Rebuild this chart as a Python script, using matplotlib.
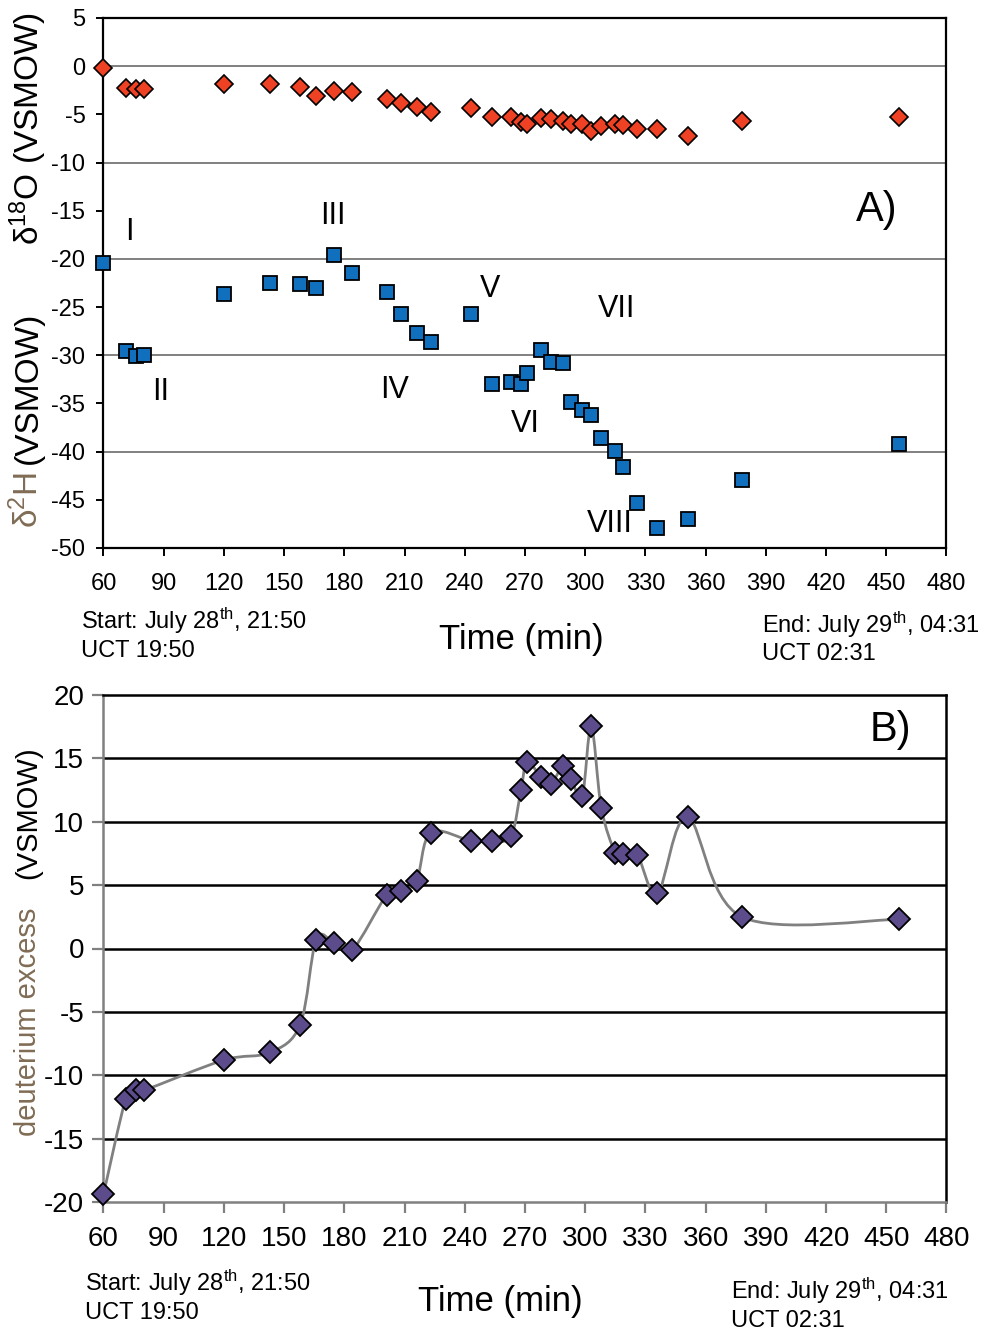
import matplotlib
matplotlib.use('Agg')
import matplotlib.pyplot as plt
from matplotlib.path import Path
from matplotlib.patches import PathPatch

plt.rcParams['font.family'] = ['Liberation Sans', 'DejaVu Sans']
plt.rcParams['mathtext.fontset'] = 'custom'
plt.rcParams['mathtext.rm'] = 'Liberation Sans'
plt.rcParams['mathtext.it'] = 'Liberation Sans'
plt.rcParams['axes.unicode_minus'] = False

# ---------------- data
time_min = [60, 71, 76, 80, 120, 143, 158, 166, 175, 184, 201, 208, 216, 223, 243, 253.5,
            263, 268, 271, 278, 283, 289, 293, 298.5, 303, 308, 315, 319, 326, 336, 351, 378, 456.5]
d18O = [-0.2, -2.3, -2.4, -2.4, -1.9, -1.85, -2.2, -3.05, -2.55, -2.7, -3.45, -3.85, -4.2, -4.8,
        -4.35, -5.3, -5.25, -5.75, -5.95, -5.4, -5.5, -5.65, -6.0, -6.0, -6.7, -6.2, -5.95, -6.15,
        -6.55, -6.55, -7.25, -5.7, -5.25]
d2H = [-20.4, -29.6, -30.1, -30.0, -23.6, -22.5, -22.6, -23.05, -19.6, -21.5, -23.4, -25.7, -27.7,
       -28.65, -25.7, -33.0, -32.8, -33.0, -31.8, -29.45, -30.7, -30.8, -34.8, -35.7, -36.2, -38.55,
       -39.9, -41.6, -45.3, -47.9, -47.0, -42.9, -39.2]
d_excess = [-19.4, -11.9, -11.2, -11.2, -8.8, -8.2, -6.0, 0.7, 0.4, -0.1, 4.2, 4.55, 5.35, 9.15,
            8.5, 8.5, 8.85, 12.5, 14.75, 13.5, 13.0, 14.4, 13.4, 12.0, 17.55, 11.1, 7.55, 7.45,
            7.35, 4.35, 10.35, 2.5, 2.3]

phase_labels = ['I', 'II', 'III', 'IV', 'V', 'VI', 'VII', 'VIII']
phase_t = [73, 88.5, 174.5, 205, 252.5, 270, 315.5, 312]
phase_y = [-17.2, -33.8, -15.5, -33.6, -23.1, -37.1, -25.2, -47.5]

x_ticks = list(range(60, 481, 30))

RED = '#EF4123'
BLUE = '#1170BE'
PURPLE = '#5C4C8C'
BROWN = '#806C55'
GRID_GRAY = '#808080'


def smooth_path(xs, ys):
    # Excel-like smoothed line: Catmull-Rom segments as cubic Bezier curves
    pts = list(zip(xs, ys))
    verts = [pts[0]]
    codes = [Path.MOVETO]
    n = len(pts)
    for i in range(n - 1):
        p0 = pts[i - 1] if i > 0 else pts[i]
        p1 = pts[i]
        p2 = pts[i + 1]
        p3 = pts[i + 2] if i + 2 < n else pts[i + 1]
        c1 = (p1[0] + (p2[0] - p0[0]) / 6, p1[1] + (p2[1] - p0[1]) / 6)
        c2 = (p2[0] - (p3[0] - p1[0]) / 6, p2[1] - (p3[1] - p1[1]) / 6)
        verts += [c1, c2, p2]
        codes += [Path.CURVE4] * 3
    return Path(verts, codes)


W, H = 995, 1341
fig = plt.figure(figsize=(W / 100, H / 100), dpi=100)


def px_ax(left, top, right, bottom):
    return fig.add_axes([left / W, 1 - bottom / H, (right - left) / W, (bottom - top) / H])


################# A) isotopes
ax1 = px_ax(103.5, 18, 946.5, 548)
ax1.plot(time_min, d18O, linestyle='none', marker='D', ms=9, mfc=RED, mec='black', mew=1.2,
         zorder=4, clip_on=False)
ax1.plot(time_min, d2H, linestyle='none', marker='s', ms=9.5, mfc=BLUE, mec='black', mew=1.3,
         zorder=4, clip_on=False)
ax1.set_xlim(60, 480)
ax1.set_ylim(-50, 5)
ax1.set_xticks(x_ticks)
ax1.set_yticks(range(-50, 6, 5))
for g in range(-40, 1, 10):
    ax1.axhline(g, color=GRID_GRAY, lw=1.4, zorder=1)
for s in ax1.spines.values():
    s.set_linewidth(1.6)
    s.set_color('black')
ax1.tick_params(axis='x', direction='out', length=6, width=1.4, pad=12, labelsize=17)
ax1.tick_params(axis='y', direction='out', length=5, width=1.4, pad=8, labelsize=17)

for lab, t, y in zip(phase_labels, phase_t, phase_y):
    ax1.text(t, y, lab, fontsize=22, ha='center', va='center')
ax1.text(445, -14.9, 'A)', fontsize=30, ha='center', va='center')

fig.text(28 / W, 1 - 128 / H, 'δ$^{18}$O (VSMOW)', rotation=90, fontsize=24, ha='center', va='center')
fig.text(28 / W, 1 - 500 / H, 'δ$^{2}$H', rotation=90, fontsize=24, ha='center', va='center', color=BROWN)
fig.text(28 / W, 1 - 388 / H, '(VSMOW)', rotation=90, fontsize=24, ha='center', va='center')

fig.text(81 / W, 1 - 629 / H, 'Start: July 28$^{\\mathrm{th}}$, 21:50', fontsize=17, va='baseline')
fig.text(81 / W, 1 - 657 / H, 'UCT 19:50', fontsize=17, va='baseline')
fig.text(521 / W, 1 - 640 / H, 'Time (min)', fontsize=25, ha='center', va='center')
fig.text(762 / W, 1 - 633 / H, 'End: July 29$^{\\mathrm{th}}$, 04:31', fontsize=17, va='baseline')
fig.text(762 / W, 1 - 660 / H, 'UCT 02:31', fontsize=17, va='baseline')

################# B) deuterium excess
ax2 = px_ax(103.5, 695, 946.5, 1202)
ax2.add_patch(PathPatch(smooth_path(time_min, d_excess), facecolor='none',
                        edgecolor=GRID_GRAY, lw=2.0, zorder=3))
ax2.plot(time_min, d_excess, linestyle='none', marker='D', ms=11, mfc=PURPLE, mec='black', mew=1.3,
         zorder=4, clip_on=False)
ax2.set_xlim(60, 480)
ax2.set_ylim(-20, 20)
ax2.set_xticks(x_ticks)
ax2.set_yticks(range(-20, 21, 5))
for g in range(-15, 20, 5):
    ax2.axhline(g, color='black', lw=1.8, zorder=1)
ax2.spines['top'].set_color('black')
ax2.spines['right'].set_color('black')
ax2.spines['left'].set_color(GRID_GRAY)
ax2.spines['bottom'].set_color(GRID_GRAY)
for s in ax2.spines.values():
    s.set_linewidth(1.8)
ax2.tick_params(axis='both', direction='out', length=8, width=1.6, color=GRID_GRAY, labelsize=20)
ax2.tick_params(axis='x', pad=9)
ax2.tick_params(axis='y', pad=6)
ax2.text(452, 17.2, 'B)', fontsize=30, ha='center', va='center')

fig.text(28 / W, 1 - 1022 / H, 'deuterium excess', rotation=90, fontsize=21, ha='center', va='center', color=BROWN)
fig.text(28 / W, 1 - 813 / H, '(VSMOW)', rotation=90, fontsize=21, ha='center', va='center')

fig.text(85 / W, 1 - 1291 / H, 'Start: July 28$^{\\mathrm{th}}$, 21:50', fontsize=17, va='baseline')
fig.text(85 / W, 1 - 1319 / H, 'UCT 19:50', fontsize=17, va='baseline')
fig.text(500 / W, 1 - 1302 / H, 'Time (min)', fontsize=25, ha='center', va='center')
fig.text(731 / W, 1 - 1299 / H, 'End: July 29$^{\\mathrm{th}}$, 04:31', fontsize=17, va='baseline')
fig.text(731 / W, 1 - 1327 / H, 'UCT 02:31', fontsize=17, va='baseline')

fig.savefig('out.png', dpi=100)
